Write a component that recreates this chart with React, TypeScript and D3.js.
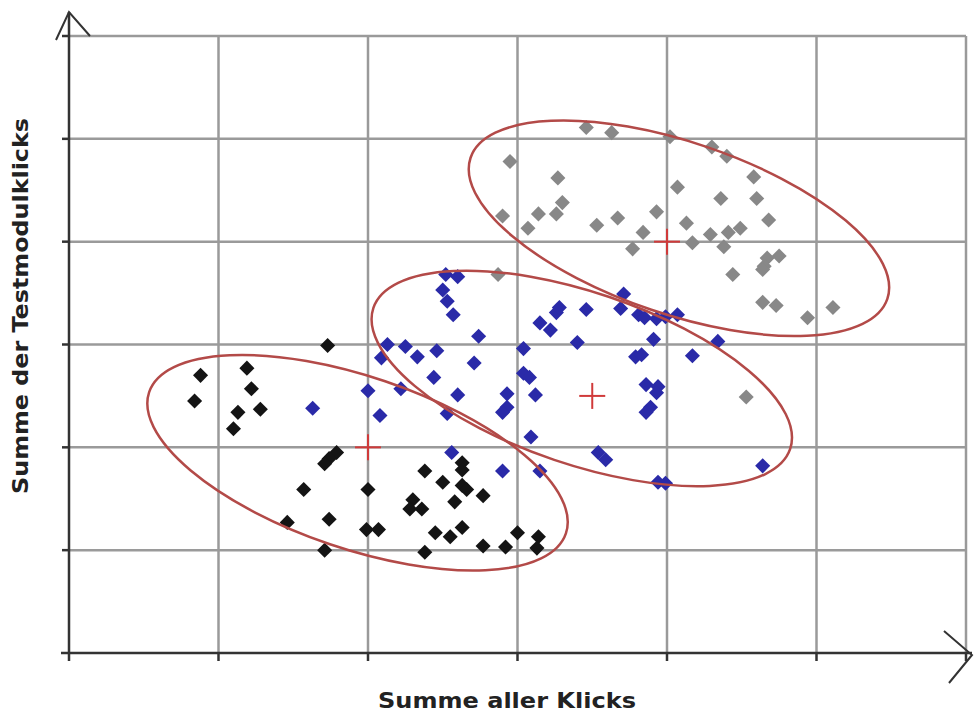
// scatter with three click clusters, ellipses and centroids
import { useEffect, useRef } from 'react';
import * as d3 from 'd3';

// cluster 1 (black)
const blackX = [1.73, 0.88, 1.19, 0.84, 1.22, 1.13, 1.28, 1.10, 1.79, 1.74, 1.71, 1.57, 2.0, 1.74, 1.46, 1.99, 2.07, 1.71,
  2.38, 2.30, 2.28, 2.36, 2.38, 2.63, 2.63, 2.50, 2.63, 2.66, 2.77, 2.58, 2.63, 2.45, 2.55, 2.77, 2.92, 3.0, 3.14, 3.13];
const blackY = [2.99, 2.70, 2.77, 2.45, 2.57, 2.34, 2.37, 2.18, 1.95, 1.89, 1.84, 1.59, 1.59, 1.30, 1.27, 1.20, 1.20, 1.0,
  1.77, 1.49, 1.40, 1.40, 0.98, 1.85, 1.78, 1.66, 1.63, 1.59, 1.53, 1.47, 1.22, 1.17, 1.13, 1.04, 1.03, 1.17, 1.13, 1.02];

// cluster 2 (blue)
const blueX = [1.63, 2.0, 2.08, 2.22, 2.13, 2.25, 2.33, 2.09, 2.52, 2.60, 2.50, 2.53, 2.57, 2.74, 2.46, 2.71, 2.44, 2.60,
  2.53, 2.93, 2.93, 2.90, 3.12, 3.04, 3.08, 3.04, 3.15, 3.22, 3.26, 3.28, 3.46, 3.40, 3.09, 2.56, 2.90, 3.15, 3.54, 3.59,
  3.71, 3.69, 3.81, 3.85, 3.93, 3.99, 4.07, 3.91, 4.34, 3.79, 3.83, 4.17, 3.86, 3.94, 3.93, 3.89, 3.86, 3.94, 3.99, 4.64];
const blueY = [2.38, 2.55, 2.31, 2.57, 3.0, 2.98, 2.88, 2.87, 3.68, 3.66, 3.53, 3.42, 3.29, 3.08, 2.94, 2.82, 2.68, 2.51,
  2.33, 2.52, 2.39, 2.34, 2.51, 2.72, 2.68, 2.96, 3.21, 3.14, 3.31, 3.36, 3.34, 3.02, 2.10, 1.95, 1.77, 1.77, 1.95, 1.88,
  3.49, 3.35, 3.29, 3.26, 3.25, 3.27, 3.29, 3.05, 3.03, 2.88, 2.90, 2.89, 2.61, 2.59, 2.53, 2.39, 2.34, 1.66, 1.65, 1.82];

// cluster 3 (gray)
const grayX = [2.87, 3.46, 3.63, 2.95, 3.27, 3.30, 3.26, 3.14, 2.90, 3.07, 3.53, 3.67, 3.93, 4.07, 3.84, 3.77, 4.13, 4.17,
  4.02, 4.30, 4.40, 4.58, 4.36, 4.60, 4.68, 4.29, 4.41, 4.49, 4.38, 4.67, 4.75, 4.65, 4.44, 4.64, 4.73, 4.94, 5.11, 4.53, 4.64];
const grayY = [3.68, 5.11, 5.06, 4.78, 4.62, 4.38, 4.27, 4.27, 4.25, 4.13, 4.16, 4.23, 4.29, 4.53, 4.09, 3.93, 4.18, 3.99,
  5.02, 4.92, 4.83, 4.63, 4.42, 4.42, 4.21, 4.07, 4.09, 4.13, 3.95, 3.84, 3.86, 3.76, 3.68, 3.41, 3.38, 3.26, 3.36, 2.49, 3.73];

// cluster centres (red crosses) and ellipse centres
const centroidX = [2.0, 3.5, 4.0];
const centroidY = [2.0, 2.5, 4.0];
const ellipseX = [1.93, 3.43, 4.08];
const ellipseY = [1.85, 2.67, 4.13];

const gridTicks = [1, 2, 3, 4, 5, 6];

export default function App() {
  const ref = useRef<SVGSVGElement>(null);
  const width = 979;
  const height = 722;

  useEffect(() => {
    const svg = d3.select(ref.current);
    svg.selectAll('*').remove();

    const x = d3.scaleLinear().domain([0, 6]).range([69, 966]);
    const y = d3.scaleLinear().domain([0, 6]).range([653, 36]);

    // grid
    const grid = svg.append('g').attr('stroke', '#9a9a9a').attr('stroke-width', 2.5);
    gridTicks.forEach(t => {
      grid.append('line').attr('x1', x(t)).attr('x2', x(t)).attr('y1', y(0)).attr('y2', y(6));
      grid.append('line').attr('x1', x(0)).attr('x2', x(6)).attr('y1', y(t)).attr('y2', y(t));
    });

    // axes with small ticks and arrows
    const axes = svg.append('g').attr('stroke', '#333').attr('stroke-width', 2.5).attr('fill', 'none');
    axes.append('line').attr('x1', x(0) - 8).attr('x2', x(6) + 6).attr('y1', y(0)).attr('y2', y(0));
    axes.append('line').attr('x1', x(0)).attr('x2', x(0)).attr('y1', y(0) + 8).attr('y2', y(6) - 24);
    gridTicks.forEach(t => {
      axes.append('line').attr('x1', x(t)).attr('x2', x(t)).attr('y1', y(0)).attr('y2', y(0) + 8);
      axes.append('line').attr('x1', x(0) - 7).attr('x2', x(0)).attr('y1', y(t)).attr('y2', y(t));
    });
    axes.append('path')
      .attr('d', `M${x(0) - 13},${y(6) + 4} L${x(0)},${y(6) - 24} L${x(0) + 21},${y(6)}`)
      .attr('stroke-width', 2);
    axes.append('path')
      .attr('d', `M${x(6) - 22},${y(0) - 22} L${x(6) + 6},${y(0) + 2} L${x(6) - 17},${y(0) + 30}`)
      .attr('stroke-width', 2);

    // points
    const diamond = d3.symbol().type(d3.symbolDiamond2).size(145);
    const series = [
      { xs: blackX, ys: blackY, color: '#141414' },
      { xs: blueX, ys: blueY, color: '#2a2aa8' },
      { xs: grayX, ys: grayY, color: '#888888' },
    ];
    series.forEach(s => {
      svg.append('g').selectAll('path').data(s.xs).enter()
        .append('path')
        .attr('d', diamond)
        .attr('transform', (d, i) => `translate(${x(d)},${y(s.ys[i])})`)
        .attr('fill', s.color);
    });

    // ellipses
    svg.append('g').selectAll('ellipse').data(ellipseX).enter()
      .append('ellipse')
      .attr('cx', 0).attr('cy', 0)
      .attr('rx', 220).attr('ry', 86)
      .attr('transform', (d, i) => `translate(${x(d)},${y(ellipseY[i])}) rotate(18.7)`)
      .attr('fill', 'none')
      .attr('stroke', '#b34a48')
      .attr('stroke-width', 2.5);

    // centroids
    const cross = svg.append('g').attr('stroke', '#d03a3a').attr('stroke-width', 2);
    centroidX.forEach((cx, i) => {
      cross.append('line').attr('x1', x(cx) - 13).attr('x2', x(cx) + 13).attr('y1', y(centroidY[i])).attr('y2', y(centroidY[i]));
      cross.append('line').attr('x1', x(cx)).attr('x2', x(cx)).attr('y1', y(centroidY[i]) - 13).attr('y2', y(centroidY[i]) + 13);
    });

    // axis titles
    svg.append('text')
      .attr('x', 507).attr('y', 708)
      .attr('text-anchor', 'middle')
      .attr('textLength', 258).attr('lengthAdjust', 'spacingAndGlyphs')
      .style('font-family', '"DejaVu Sans", sans-serif')
      .style('font-weight', 'bold')
      .style('font-size', '21px')
      .attr('fill', '#222')
      .text('Summe aller Klicks');
    svg.append('text')
      .attr('transform', 'translate(28,306) rotate(-90)')
      .attr('text-anchor', 'middle')
      .attr('textLength', 376).attr('lengthAdjust', 'spacingAndGlyphs')
      .style('font-family', '"DejaVu Sans", sans-serif')
      .style('font-weight', 'bold')
      .style('font-size', '21px')
      .attr('fill', '#222')
      .text('Summe der Testmodulklicks');
  }, []);

  return (
    <svg ref={ref} width={width} height={height}
      style={{ position: 'absolute', left: 0, top: 0, background: '#fff' }} />
  );
}
